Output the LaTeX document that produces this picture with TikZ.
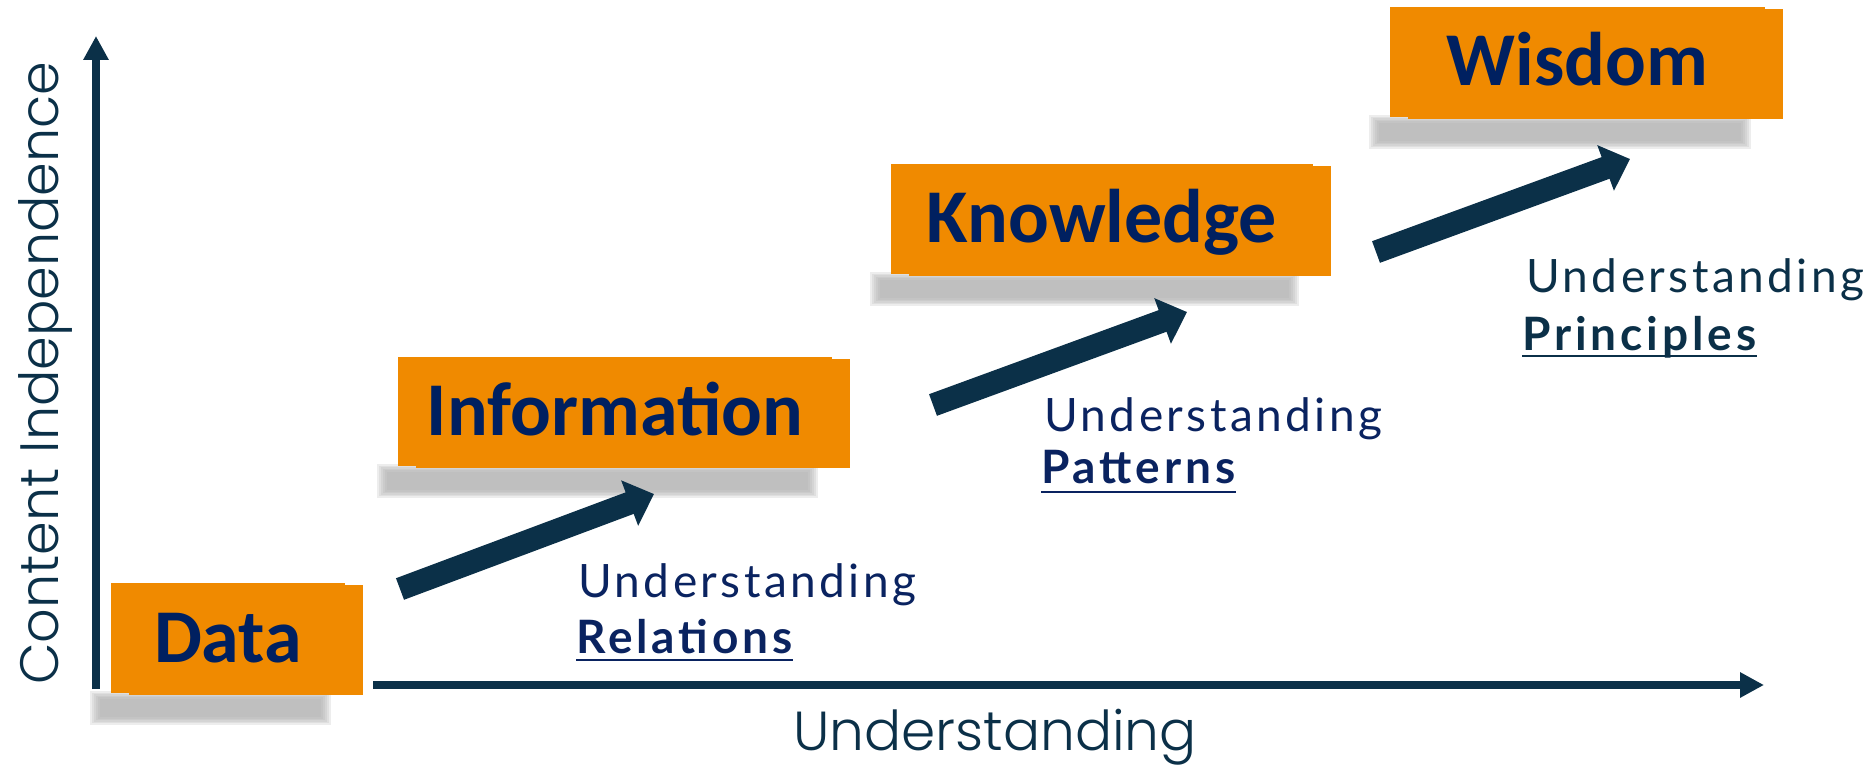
\documentclass[tikz,border=0pt]{standalone}
\usepackage{fontspec}
\usetikzlibrary{arrows.meta}
\newfontfamily\boxfont{Carlito}
\newfontfamily\labfont{Lato}[LetterSpace=7.5]
\newfontfamily\labbfont{Lato}[LetterSpace=8.5]
\newfontfamily\axfont{Poppins}[UprightFont={* Light}]
\definecolor{axcol}{HTML}{0B3048}
\definecolor{boxor}{HTML}{F08A00}
\definecolor{boxtext}{HTML}{002060}
\definecolor{labnavy}{HTML}{0A2360}
\newcommand\boxshadow[3]{%
  \foreach \k in {0,...,5}{%
    \fill[black!32, opacity=0.22] (#1-11-\k*2, #3+4-\k*1.6) rectangle (#2-42+\k*2, #3+22+\k*1.6);
  }%
}
\begin{document}
\begin{tikzpicture}[x=1pt,y=-1pt,
  axis/.style={line width=8pt, draw=axcol, -{Triangle[width=24pt,length=24pt]}},
  bigarrow/.style={line width=23pt, draw=axcol, -{Triangle[width=47pt,length=26pt]}},
  box/.style={fill=boxor, inner sep=0pt, text=boxtext,
    font=\boxfont\bfseries\fontsize{76}{80}\selectfont, text height=48pt, text depth=0pt},
  boxback/.style={fill=boxor},
  lab/.style={font=\labfont\fontsize{46}{50}\selectfont, anchor=base west, inner sep=0pt},
  labb/.style={font=\labbfont\bfseries\fontsize{46}{50}\selectfont, anchor=base west, inner sep=0pt},
  ul/.style={line width=2.5pt},
  axlab/.style={font=\axfont\fontsize{55}{60}\selectfont, text=axcol, anchor=base west, inner sep=0pt}
]
\useasboundingbox (0,0) rectangle (1873,767);

% shadows
\boxshadow{111}{363}{695}
\boxshadow{398}{850}{468}
\boxshadow{891}{1331}{276}
\boxshadow{1390}{1783}{119}

% back rectangles
\fill[boxback] (129,585) rectangle (363,695);
\fill[boxback] (416,359) rectangle (850,468);
\fill[boxback] (909,166) rectangle (1331,276);
\fill[boxback] (1408,9) rectangle (1783,119);

% boxes
\node[box, minimum width=234pt, minimum height=110pt] (data) at (228,638) {Data};
\node[box, minimum width=434pt, minimum height=109pt] (info) at (615,411.5) {Information};
\node[box, minimum width=422pt, minimum height=110pt] (know) at (1102,219) {Knowledge};
\node[box, minimum width=375pt, minimum height=110pt] (wis) at (1577.5,62) {Wisdom};

% axes
\coordinate (yaxb) at (96,689);
\coordinate (yaxt) at (96,36);
\coordinate (xaxl) at (373,685);
\coordinate (xaxr) at (1764,685);
\draw[axis] (yaxb) -- (yaxt);
\draw[axis] (xaxl) -- (xaxr);

% axis labels
\node[axlab, rotate=90, font=\axfont\fontsize{54}{60}\selectfont] (ylab) at (58,685) {Content Independence};
\node[axlab] (xlab) at (793,750) {Understanding};

% big arrows
\coordinate (a1s) at (400,589);
\coordinate (a1e) at (654,494);
\coordinate (a2s) at (933,405);
\coordinate (a2e) at (1187,312);
\coordinate (a3s) at (1376,252);
\coordinate (a3e) at (1630,159);
\draw[bigarrow] (a1s) -- (a1e);
\draw[bigarrow] (a2s) -- (a2e);
\draw[bigarrow] (a3s) -- (a3e);

% labels
\node[lab, text=labnavy] (u1) at (578,597) {Understanding};
\node[labb, text=labnavy] (r1) at (576,653) {Relations};
\draw[ul, draw=labnavy] ([yshift=-7pt]r1.base west) -- ([yshift=-7pt]r1.base east);

\node[lab, text=labnavy] (u2) at (1044,431) {Understanding};
\node[labb, text=labnavy] (r2) at (1041,483) {Patterns};
\draw[ul, draw=labnavy] ([yshift=-9pt]r2.base west) -- ([yshift=-9pt]r2.base east);

\node[lab, text=axcol] (u3) at (1526,292) {Understanding};
\node[labb, text=axcol] (r3) at (1522,350) {Principles};
\draw[ul, draw=axcol] ([yshift=-6pt]r3.base west) -- ([yshift=-6pt]r3.base east);
\end{tikzpicture}
\end{document}
